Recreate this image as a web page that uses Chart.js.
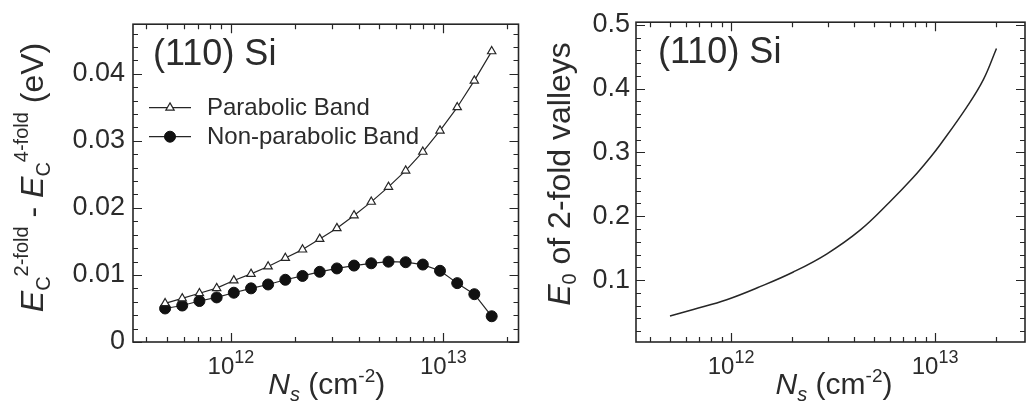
<!DOCTYPE html>
<html><head><meta charset="utf-8">
<script src="https://cdn.jsdelivr.net/npm/chart.js@4.4.1/dist/chart.umd.min.js"></script>
<style>
html,body{margin:0;padding:0;background:#fff;}
body{position:relative;width:1026px;height:409px;overflow:hidden;}
#c1{position:absolute;left:0;top:0;}
#c2{position:absolute;left:525px;top:0;}
</style></head>
<body>
<canvas id="c1" width="525" height="409"></canvas>
<canvas id="c2" width="501" height="409"></canvas>
<script>
// ---------- data ----------
const leftNs = [4.90e11, 5.90e11, 7.11e11, 8.57e11, 1.032e12, 1.244e12, 1.497e12, 1.804e12, 2.174e12, 2.619e12,
                3.155e12, 3.80e12, 4.58e12, 5.52e12, 6.65e12, 8.01e12, 9.65e12, 1.163e13, 1.40e13, 1.69e13];
const parabolicBand = [0.00577, 0.0065, 0.00727, 0.00803, 0.00918, 0.01016, 0.01126, 0.01252, 0.01378, 0.01537,
                       0.01697, 0.01888, 0.0209, 0.02313, 0.02556, 0.02836, 0.03152, 0.03501, 0.03898, 0.04335];
const nonParabolicBand = [0.0050, 0.00544, 0.00611, 0.00665, 0.00735, 0.0080, 0.00858, 0.00928, 0.00985, 0.01047,
                          0.01097, 0.0114, 0.01174, 0.01198, 0.0119, 0.01155, 0.01062, 0.00878, 0.00713, 0.00384];
const rightNs = [5.02e11, 6.53e11, 9.52e11, 1.387e12, 2.02e12, 2.94e12, 4.29e12, 6.01e12, 7.83e12, 9.45e12,
                 1.059e13, 1.43e13, 1.725e13, 2.0e13];
const e0TwoFold = [0.0437, 0.054, 0.0693, 0.0897, 0.1127, 0.1408, 0.1782, 0.2227, 0.261, 0.2917,
                   0.312, 0.371, 0.414, 0.4629];
const seriesNames = ['Parabolic Band', 'Non-parabolic Band'];
const leftYTickLabels = ['0', '0.01', '0.02', '0.03', '0.04'];
const rightYTickLabels = ['0.1', '0.2', '0.3', '0.4', '0.5'];
const xTickExponents = ['12', '13'];
const panelLabel = '(110) Si';

// ---------- styling ----------
const FAMILY = '"Liberation Sans", Arial, Helvetica, sans-serif';
const TEXT = '#2b2b2b';
const LINE = '#262626';

function fontOf(s){ return (s.italic ? 'italic ' : '') + s.size + 'px ' + FAMILY; }
function richWidth(ctx, segs){ let w = 0; for (const s of segs){ ctx.font = fontOf(s); w += ctx.measureText(s.t).width; } return w; }
function drawRich(ctx, segs, x, y){
  let cx = x;
  ctx.textAlign = 'left'; ctx.textBaseline = 'alphabetic';
  for (const s of segs){ ctx.font = fontOf(s); ctx.fillText(s.t, cx, y + (s.dy || 0)); cx += ctx.measureText(s.t).width; }
}
function isDecade(v){ const l = Math.log10(v); return Math.abs(l - Math.round(l)) < 1e-6; }

function logTicks(scale){
  const out = [];
  const e0 = Math.floor(Math.log10(scale.min)), e1 = Math.ceil(Math.log10(scale.max));
  for (let e = e0; e <= e1; e++) for (let m = 1; m <= 9; m++){
    const v = m * Math.pow(10, e);
    if (v >= scale.min * 0.9999 && v <= scale.max * 1.0001) out.push({value: v});
  }
  scale.ticks = out;
}
function linTicks(step){
  return function(scale){
    const out = [];
    const k0 = Math.ceil(scale.min / step - 1e-9), k1 = Math.floor(scale.max / step + 1e-9);
    for (let k = k0; k <= k1; k++) out.push({value: +(k * step).toFixed(6)});
    scale.ticks = out;
  };
}
function labelFrom(list){
  return function(v){
    for (const l of list) if (Math.abs(parseFloat(l) - v) < 1e-9) return l;
    return '';
  };
}

function makePanelPlugin(o){
  return {
    id: 'panel_' + o.name,
    afterDraw(chart){
      const {ctx, chartArea: a} = chart;
      const xs = chart.scales.x, ys = chart.scales.y;
      ctx.save();
      // frame
      ctx.strokeStyle = LINE; ctx.lineWidth = 1.6;
      ctx.strokeRect(a.left, a.top, a.right - a.left, a.bottom - a.top);
      // inward tick marks on all four sides
      ctx.lineWidth = 1.2;
      ctx.beginPath();
      for (const t of xs.ticks){
        const px = Math.round(xs.getPixelForValue(t.value)) + 0.5;
        const len = isDecade(t.value) ? 9 : 5;
        ctx.moveTo(px, a.bottom); ctx.lineTo(px, a.bottom - len);
        ctx.moveTo(px, a.top); ctx.lineTo(px, a.top + len);
      }
      for (const t of ys.ticks){
        const py = Math.round(ys.getPixelForValue(t.value)) + 0.5;
        const len = o.yMajor(t.value) ? 9 : 5;
        ctx.moveTo(a.left, py); ctx.lineTo(a.left + len, py);
        ctx.moveTo(a.right, py); ctx.lineTo(a.right - len, py);
      }
      ctx.stroke();
      // x tick labels 10^n
      ctx.fillStyle = TEXT;
      for (const e of xTickExponents){
        const px = xs.getPixelForValue(Math.pow(10, +e));
        const segs = [{t:'10', size:24}, {t:e, size:18, dy:-11}];
        drawRich(ctx, segs, px - richWidth(ctx, segs) / 2, 374);
      }
      // x title
      const xw = richWidth(ctx, o.xTitle);
      drawRich(ctx, o.xTitle, (a.left + a.right) / 2 + o.xTitleShift - xw / 2, 394);
      // y title (rotated)
      ctx.save();
      ctx.translate(o.yTitleX, o.yTitleCenter);
      ctx.rotate(-Math.PI / 2);
      const yw = richWidth(ctx, o.yTitle);
      drawRich(ctx, o.yTitle, -yw / 2, 0);
      ctx.restore();
      // panel label
      ctx.font = '36px ' + FAMILY; ctx.textAlign = 'left'; ctx.textBaseline = 'alphabetic';
      ctx.fillText(panelLabel, a.left + o.labelDx, a.top + 41);
      // legend
      if (o.legend){
        chart.data.datasets.forEach((ds, i) => {
          const ly = a.top + 83.5 + i * 29;
          const x0 = a.left + 16, x1 = a.left + 58;
          ctx.strokeStyle = ds.borderColor; ctx.lineWidth = ds.borderWidth;
          ctx.beginPath(); ctx.moveTo(x0, ly); ctx.lineTo(x1, ly); ctx.stroke();
          ctx.fillStyle = ds.pointBackgroundColor; ctx.strokeStyle = ds.pointBorderColor; ctx.lineWidth = ds.pointBorderWidth;
          Chart.helpers.drawPoint(ctx, {pointStyle: ds.pointStyle, radius: ds.pointRadius, borderWidth: ds.pointBorderWidth, rotation: 0}, (x0 + x1) / 2, ly);
          ctx.fillStyle = TEXT; ctx.font = '24px ' + FAMILY; ctx.textBaseline = 'middle';
          ctx.fillText(ds.label, a.left + 74, ly + 1);
          ctx.textBaseline = 'alphabetic';
        });
      }
      ctx.restore();
    }
  };
}

function baseOptions(cfg){
  return {
    responsive: false, animation: false, devicePixelRatio: 1,
    layout: {padding: {left: 0, right: cfg.padRight, top: 15, bottom: 0}},
    plugins: {legend: {display: false}, tooltip: {enabled: false}},
    elements: {line: {borderJoinStyle: 'round'}},
    scales: {
      x: {type: 'logarithmic', position: 'bottom', min: cfg.xMin, max: cfg.xMax,
          grid: {display: false, drawTicks: false}, border: {display: false},
          ticks: {display: false},
          afterBuildTicks: logTicks,
          afterFit: s => { s.height = 67; }},
      y: {type: 'linear', position: 'left', min: cfg.yMin, max: cfg.yMax,
          grid: {display: false, drawTicks: false}, border: {display: false},
          ticks: {autoSkip: false, padding: cfg.yPad, color: TEXT, font: {family: FAMILY, size: 27},
                  callback: labelFrom(cfg.yLabels), maxRotation: 0},
          afterBuildTicks: linTicks(cfg.yStep),
          afterFit: s => { s.width = cfg.yWidth; }}
    }
  };
}

const xTitleSegs = [{t:'N', italic:true, size:30}, {t:'s', italic:true, size:20, dy:7},
                    {t:' (cm', size:30}, {t:'-2', size:19, dy:-12}, {t:')', size:30}];

// ---------- left chart ----------
new Chart(document.getElementById('c1'), {
  type: 'line',
  data: {datasets: [
    {label: seriesNames[0], data: leftNs.map((v, i) => ({x: v, y: parabolicBand[i]})),
     borderColor: LINE, borderWidth: 1.2, pointStyle: 'triangle', pointRadius: 4.8,
     pointBackgroundColor: '#ffffff', pointBorderColor: LINE, pointBorderWidth: 1.2, tension: 0},
    {label: seriesNames[1], data: leftNs.map((v, i) => ({x: v, y: nonParabolicBand[i]})),
     borderColor: LINE, borderWidth: 1.2, pointStyle: 'circle', pointRadius: 5.5,
     pointBackgroundColor: '#111111', pointBorderColor: '#111111', pointBorderWidth: 1, tension: 0}
  ]},
  options: baseOptions({padRight: 4, xMin: 3.46e11, xMax: 2.26e13, yMin: 0, yMax: 0.0474, yStep: 0.002,
                        yLabels: leftYTickLabels, yPad: 8, yWidth: 133}),
  plugins: [makePanelPlugin({
    name: 'left', legend: true, labelDx: 20, xTitleShift: 1,
    yMajor: v => Math.abs(v / 0.01 - Math.round(v / 0.01)) < 1e-6,
    yTitleX: 43, yTitleCenter: 177.5,
    yTitle: [{t:'E', italic:true, size:32}, {t:'C', size:20, dy:7}, {t:'2-fold', size:20, dy:-15},
             {t:' - ', size:32}, {t:'E', italic:true, size:32}, {t:'C', size:20, dy:7},
             {t:'4-fold', size:20, dy:-15}, {t:' (eV)', size:32}],
    xTitle: xTitleSegs
  })]
});

// ---------- right chart ----------
new Chart(document.getElementById('c2'), {
  type: 'line',
  data: {datasets: [
    {label: 'E0', data: rightNs.map((v, i) => ({x: v, y: e0TwoFold[i]})),
     borderColor: LINE, borderWidth: 1.5, pointRadius: 0, tension: 0.4}
  ]},
  options: baseOptions({padRight: 1, xMin: 3.42e11, xMax: 2.76e13, yMin: 0.003, yMax: 0.504, yStep: 0.02,
                        yLabels: rightYTickLabels, yPad: 6, yWidth: 111}),
  plugins: [makePanelPlugin({
    name: 'right', legend: false, labelDx: 22, xTitleShift: 3.5,
    yMajor: v => Math.abs(v / 0.1 - Math.round(v / 0.1)) < 1e-6,
    yTitleX: 45, yTitleCenter: 174,
    yTitle: [{t:'E', italic:true, size:32}, {t:'0', size:20, dy:6}, {t:' of 2-fold valleys', size:32}],
    xTitle: xTitleSegs
  })]
});
</script>
</body></html>
